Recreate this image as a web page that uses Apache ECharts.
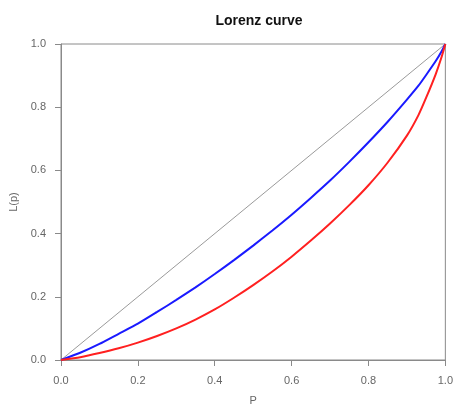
<!DOCTYPE html>
<html>
<head>
<meta charset="utf-8">
<script src="https://cdn.jsdelivr.net/npm/echarts@6/dist/echarts.min.js"></script>
<style>html,body{margin:0;padding:0;background:#fff}#c{width:456px;height:414px}</style>
</head>
<body>
<div id="c"></div>
<script>
var pValues = [0, 0.05, 0.1, 0.15, 0.2, 0.25, 0.3, 0.35, 0.4, 0.45, 0.5, 0.55, 0.6, 0.65, 0.7, 0.75, 0.8, 0.85, 0.9, 0.93, 0.95, 0.975, 0.99, 1];
var blueL = [0, 0.023, 0.051, 0.083, 0.115, 0.152, 0.19, 0.23, 0.272, 0.316, 0.362, 0.41, 0.46, 0.513, 0.568, 0.627, 0.689, 0.754, 0.824, 0.868, 0.902, 0.946, 0.976, 1];
var redL = [0, 0.009, 0.022, 0.037, 0.055, 0.076, 0.1, 0.128, 0.16, 0.197, 0.237, 0.28, 0.327, 0.378, 0.432, 0.49, 0.553, 0.625, 0.71, 0.775, 0.83, 0.905, 0.958, 1];
var equalityL = [0, 1];
var equalityP = [0, 1];

function pairs(xs, ys) { return xs.map(function (x, i) { return [x, ys[i]]; }); }

var chart = echarts.init(document.getElementById('c'));
var axisCommon = {
  type: 'value', min: 0, max: 1, interval: 0.2,
  axisLine: { show: true, lineStyle: { color: '#8a8a8a', width: 1 } },
  axisTick: { show: true, length: 6, lineStyle: { color: '#8a8a8a' } },
  axisLabel: { color: '#666', fontSize: 11, fontFamily: 'Liberation Sans, Arial', margin: 15,
    formatter: function (v) { return v.toFixed(1); } },
  splitLine: { show: false },
  nameTextStyle: { color: '#666', fontSize: 11, fontFamily: 'Liberation Sans, Arial' }
};
chart.setOption({
  animation: false,
  title: { text: 'Lorenz curve', left: 254, textAlign: 'center', top: 9,
    textStyle: { fontSize: 14, fontWeight: 'bold', color: '#111', fontFamily: 'Liberation Sans, Arial' } },
  grid: { left: 61, right: 9, top: 44, bottom: 54, show: true, borderColor: '#8a8a8a', borderWidth: 1, backgroundColor: 'transparent' },
  xAxis: Object.assign({}, axisCommon, { name: 'P', nameLocation: 'middle', nameGap: 35 }),
  yAxis: Object.assign({}, axisCommon, { name: 'L(p)', nameLocation: 'middle', nameGap: 40 }),
  series: [
    { type: 'line', data: pairs(equalityP, equalityL), showSymbol: false, lineStyle: { color: '#9a9a9a', width: 1 }, z: 1 },
    { type: 'line', data: pairs(pValues, blueL), showSymbol: false, smooth: 0.2, lineStyle: { color: '#1a1aff', width: 2 }, z: 2 },
    { type: 'line', data: pairs(pValues, redL), showSymbol: false, smooth: 0.2, lineStyle: { color: '#ff2020', width: 2 }, z: 3 }
  ]
});
</script>
</body>
</html>
